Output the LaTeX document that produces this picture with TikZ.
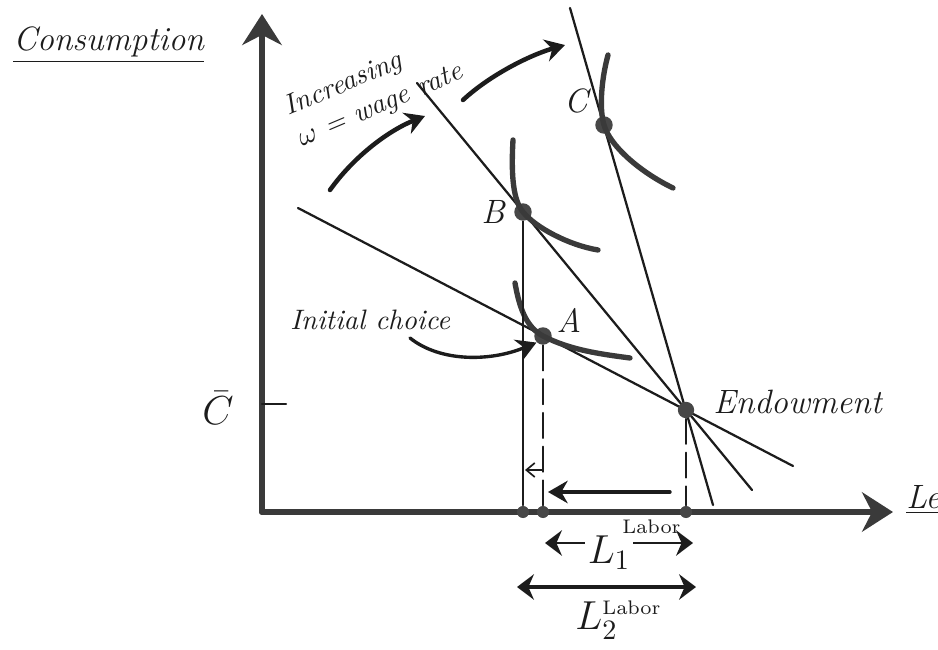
\documentclass[tikz,border=0pt]{standalone}
\usetikzlibrary{arrows.meta}
\definecolor{lsink}{HTML}{1C1C1C}
\definecolor{lsaxisink}{HTML}{3A3A3A}
\definecolor{lsdotink}{HTML}{474747}
\tikzset{
  lsaxis/.style={
    draw=lsaxisink, line width=2.1pt, -{Stealth[length=11pt, width=14pt]}},
  lsline/.style={draw=lsink, line width=0.8pt},
  lscurve/.style={draw=lsaxisink, line width=1.9pt},
  lsdrop/.style={draw=lsink, line width=0.6pt, dash pattern=on 9pt off 3pt},
  lsdot/.style={circle, fill=lsdotink, inner sep=0pt, minimum size=5.8pt},
  lsarrow/.style={
    draw=lsink, line width=1.2pt, -{Stealth[length=7pt, width=8pt]}},
  lsspan/.style={
    draw=lsink, line width=1pt,
    {Stealth[length=6pt, width=9pt]}-{Stealth[length=6pt, width=9pt]}},
  lshand/.style={font=\itshape, text=lsink, inner sep=1pt},
  every picture/.style={line cap=round},
}
\newcommand{\lslabor}[1]{$L_{#1}^{\scriptscriptstyle\mathrm{Labor}}$}

\begin{document}
\begin{tikzpicture}[x=0.0125cm, y=-0.0125cm,
  axisdot/.style={lsdot, minimum size=4.3pt}]
\useasboundingbox (0,0) rectangle (938,650);

% Axes.
\coordinate (O) at (262,512);
\coordinate (ytop) at (262,14);
\coordinate (xend) at (893,512);
\draw[lsaxis] (O) -- (ytop);
\draw[lsaxis] (O) -- (xend);
\node[lshand, font=\large\itshape, anchor=west] (cons) at (10,45)
  {\underline{Consumption}};
\node[lshand, font=\large\itshape, anchor=west] (leis) at (903,500)
  {\underline{Leisure}};

% Endowment of consumption.
\coordinate (cbar) at (262,404);
\coordinate (cbartick) at (286,404);
\draw[lsline] (cbar) -- (cbartick);
\node[lshand, font=\Large] (cbarlbl) at (218,408) {$\bar{C}$};

% Budget lines, all through the endowment.
\coordinate (bone) at (298,208);
\coordinate (bonee) at (793,466);
\coordinate (btwo) at (417,83);
\coordinate (btwoe) at (752,490);
\coordinate (bthree) at (570,8);
\coordinate (bthreee) at (713,505);
\draw[lsline] (bone) -- (bonee);
\draw[lsline] (btwo) -- (btwoe);
\draw[lsline] (bthree) -- (bthreee);

% Chosen points.
\node[lsdot] (E) at (686,410) {};
\node[lsdot, minimum size=6.2pt] (A) at (543,336) {};
\node[lsdot, minimum size=6.2pt] (B) at (523,212) {};
\node[lsdot, minimum size=6.2pt] (C) at (604,125) {};

% Indifference curves.
\draw[lscurve] (515,283) .. controls (520,312) and (528,328) .. (A.center)
  .. controls (570,350) and (600,354) .. (630,358);
\draw[lscurve] (513,140) .. controls (511,175) and (513,200) .. (B.center)
  .. controls (535,227) and (568,245) .. (598,250);
\draw[lscurve] (608,55) .. controls (600,85) and (600,112) .. (C.center)
  .. controls (610,146) and (640,172) .. (673,188);

\node[lshand, font=\large\itshape] (Alab) at (569,320) {A};
\node[lshand, font=\large\itshape] (Blab) at (493,212) {B};
\node[lshand, font=\large\itshape] (Clab) at (576,101) {C};
\node[lshand, font=\large\itshape, anchor=west] (Elab) at (710,402)
  {Endowment};

% Drop lines to the leisure axis.
\node[axisdot] (Bx) at (B |- O) {};
\node[axisdot] (Ax) at (A |- O) {};
\node[axisdot] (Ex) at (E |- O) {};
\draw[lsline, line width=0.5pt] (B) -- (Bx);
\draw[lsdrop] (A) -- (Ax);
\draw[lsdrop] (E) -- (Ex);

% Shift of leisure.
\coordinate (sma) at (543,470);
\coordinate (smb) at (525,470);
\draw[lsline, line width=0.6pt, -{Straight Barb[length=3pt, width=5pt]}]
  (sma) -- (smb);
\coordinate (bga) at (670,492);
\coordinate (bgb) at (548,492);
\draw[lsarrow] (bga) -- (bgb);

% Hours of labor.
\coordinate (lonea) at (545,543);
\coordinate (loneb) at (693,543);
\draw[lsspan] (lonea) -- (loneb);
\node[lshand, fill=white, font=\Large] (lone) at (609,553) {$L_{1}$};
\node[lshand, font=\scriptsize, anchor=base west] (lonesup) at (619,533)
  {Labor};
\coordinate (ltwoa) at (517,587);
\coordinate (ltwob) at (696,587);
\draw[lsspan, line width=1.2pt] (ltwoa) -- (ltwob);
\node[lshand, font=\Large, anchor=west] (ltwo) at (572,620) {\lslabor{2}};

% Notes on the wage.
\node[lshand, rotate=23, anchor=base west, align=left] (incr)
  at (299,148) {Increasing\\$\omega$ = wage rate};
\coordinate (inca) at (330,190);
\coordinate (incb) at (425,116);
\draw[lsarrow, line width=1.6pt] (inca) .. controls (355,155) and (390,130)
  .. (incb);
\coordinate (incc) at (463,100);
\coordinate (incd) at (565,45);
\draw[lsarrow, line width=1.6pt] (incc) .. controls (490,75) and (530,55)
  .. (incd);

% Initial choice.
\node[lshand, anchor=west] (init) at (287,320) {Initial choice};
\coordinate (inia) at (410,338);
\draw[lsarrow] (inia) .. controls (440,362) and (490,362) .. (A.south west);

\end{tikzpicture}
\end{document}
